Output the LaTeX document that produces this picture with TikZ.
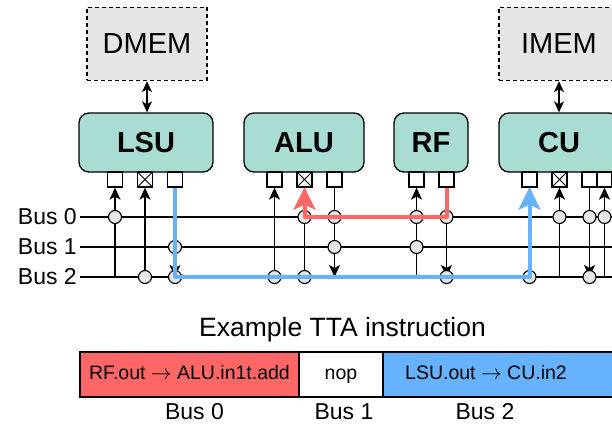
\documentclass[tikz,border=0pt]{standalone}
\usepackage{fontspec}
\setmainfont{Liberation Sans}
\usetikzlibrary{arrows.meta,calc}
\definecolor{fucol}{HTML}{A9DCD2}
\definecolor{memcol}{HTML}{E6E6E6}
\definecolor{redcol}{HTML}{FF6666}
\definecolor{bluecol}{HTML}{66B2FF}
\tikzset{
  fu/.style={draw, line width=1.3pt, fill=fucol, rounded corners=10pt, minimum height=59pt, font=\bfseries\fontsize{29}{30}\selectfont},
  mem/.style={draw, line width=1.3pt, dash pattern=on 4pt off 3pt, fill=memcol, minimum width=120pt, minimum height=73pt, font=\fontsize{29}{30}\selectfont},
  port/.style={draw, line width=1.3pt, fill=white, minimum size=15pt, inner sep=0pt},
  trig/.style={port, path picture={\draw[line width=1pt] (path picture bounding box.south west) -- (path picture bounding box.north east) (path picture bounding box.north west) -- (path picture bounding box.south east);}},
  wire/.style={line width=1.4pt, >={Stealth[length=12pt,width=11pt,inset=3pt]}},
  memlink/.style={line width=1.4pt, >={Stealth[length=11pt,width=10pt,inset=3pt]}},
  hub/.style={line width=1.1pt, fill=memcol, draw=black},
  hot/.style={line width=4pt, line join=round, >={Stealth[length=22pt,width=22pt,inset=5pt]}},
  instr/.style={draw, line width=1.3pt, minimum height=45pt, inner sep=0pt, text height=14pt, text depth=4pt, font=\fontsize{19.5}{22}\selectfont},
  buslabel/.style={font=\fontsize{23}{24}\selectfont, inner sep=3pt},
}
\begin{document}
\begin{tikzpicture}[x=1pt,y=-1pt]
    \useasboundingbox (0,0) rectangle (612,425);
    \clip (0,0) rectangle (612,425);

    \node[mem] (dmem) at (147,44) {DMEM}; %データメモリ
    \node[mem] (imem) at (559,44) {IMEM}; %命令メモリ
    \node[fu, minimum width=134pt] (lsu) at (146,142.5) {LSU};
    \node[fu, minimum width=120pt] (alu) at (304,142.5) {ALU};
    \node[fu, minimum width=74pt] (rf) at (431,142.5) {RF};
    \node[fu, minimum width=120pt] (cu) at (559,142.5) {CU};
    \draw[memlink,<->] (dmem.south) -- (dmem.south |- lsu.north);
    \draw[memlink,<->] (imem.south) -- (imem.south |- cu.north);

    % ポート
    \foreach \n/\x in {lsu1/115,lsu3/175,alu1/274.5,alu3/334.5,rf1/416.5,rf2/446.5,cu1/529.5,cu3/589.5,cu4/604.5}
        \node[port] (\n) at (\x,179.5) {};
    \foreach \n/\x in {lsu2/145,alu2/304.5,cu2/559.5}
        \node[trig] (\n) at (\x,179.5) {};

    % バス
    \coordinate (b0) at (80,217); %バス0
    \coordinate (b1) at (80,247); %バス1
    \coordinate (b2) at (80,277); %バス2
    \foreach \b/\i in {b0/0,b1/1,b2/2} {
        \coordinate (\b e) at ($(\b)+(560,0)$);
        \draw[wire] (\b) -- (\b e);
        \node[buslabel, anchor=east] (l\i) at (\b) {Bus \i};
    }

    \foreach \n in {lsu1,lsu2,alu1,alu2,rf1,cu1,cu2,cu4} \draw[wire,<-] (\n.south) -- (\n.south |- b2); %入力
    \foreach \n in {lsu3,alu3,rf2,cu3} \draw[wire,->] (\n.south) -- (\n.south |- b2); %出力
    \foreach \n/\b in {lsu1/b0,lsu2/b2,lsu3/b1,lsu3/b2,alu1/b2,alu2/b0,alu2/b2,alu3/b0,alu3/b1,rf1/b0,rf1/b1,rf2/b0,rf2/b2,cu1/b2,cu2/b0,cu3/b0,cu3/b2,cu4/b0}
        \filldraw[hub] (\n.south |- \b) circle (6.5); %接続点

    \draw[hot, draw=redcol, ->] (rf2.south) |- (alu2.south |- b0) -- (alu2.south); %RF→ALU
    \draw[hot, draw=bluecol, ->] (lsu3.south) |- (cu1.south |- b2) -- (cu1.south); %LSU→CU

    % 命令
    \node[font=\fontsize{26.5}{28}\selectfont] (title) at (342.5,330) {Example TTA instruction};
    \filldraw[fill=bluecol, line width=1.3pt] (383,352) rectangle (640,397);
    \node[instr, fill=redcol, minimum width=219pt] (f0) at (189.5,374.5) {RF.out $\rightarrow$ ALU.in1t.add};
    \node[instr, fill=white, minimum width=84pt] (f1) at (341,374.5) {nop};
    \node[instr, draw=none] (f2) at (486,374.5) {LSU.out $\rightarrow$ CU.in2};
    \node[buslabel] (s0) at (194.5,412) {Bus 0};
    \node[buslabel] (s1) at (344,412) {Bus 1};
    \node[buslabel] (s2) at (485,412) {Bus 2};

\end{tikzpicture}
\end{document}
